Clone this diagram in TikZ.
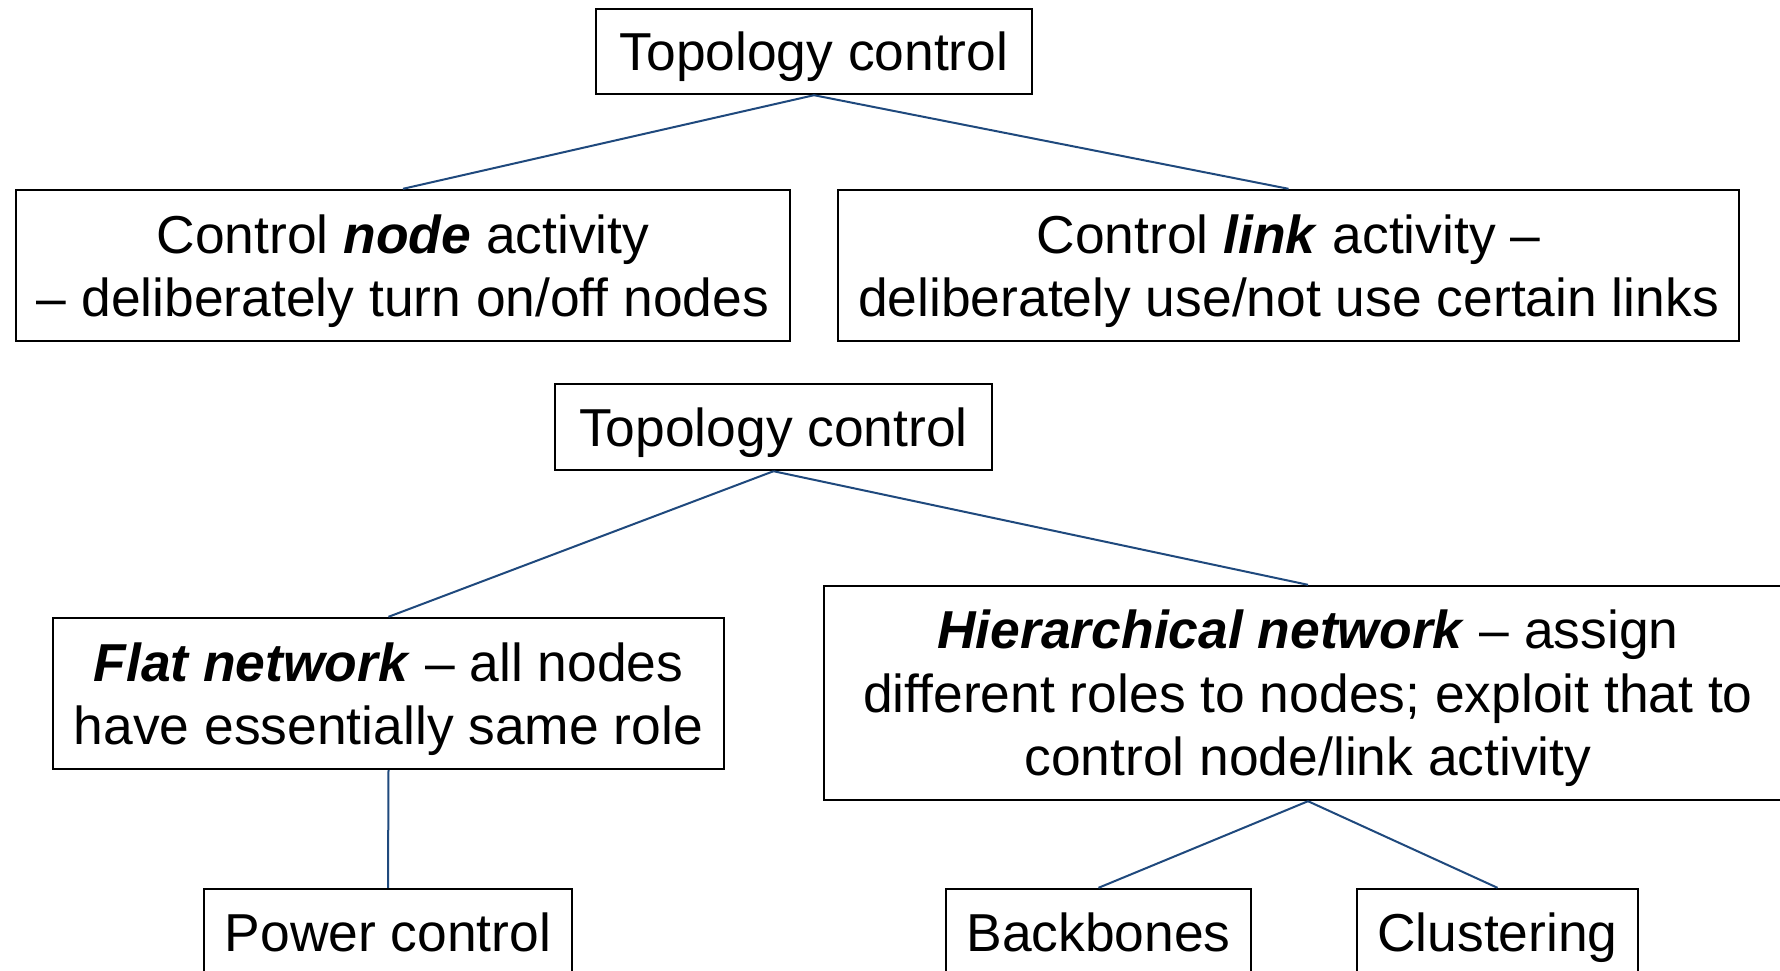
\documentclass[tikz,border=0pt]{standalone}
\usepackage{fontspec}
\setmainfont{Liberation Sans}
\definecolor{linkblue}{RGB}{31,73,125}
\newcommand{\bi}[1]{\textbf{\textit{#1}}}
\begin{document}
\begin{tikzpicture}[x=1pt,y=-1pt,
  box/.style={draw=black,line width=2.4pt,inner sep=0pt,align=center,
    text depth=0pt,font=\fontsize{53.4pt}{63.5pt}\selectfont},
  edge/.style={draw=linkblue,line width=2pt}]
\useasboundingbox (0,0) rectangle (1780,970);
\clip (0,0) rectangle (1780,970);
\fill[white] (0,0) rectangle (1780,970);

% upper tree
\node[box,minimum width=436pt,minimum height=85pt] (tc1) at (814,51.5) {Topology control};
\node[box,minimum width=774pt,minimum height=151pt] (nodeact) at (403,265.5)
  {Control \bi{node} activity\\– deliberately turn on/off nodes};
\node[box,minimum width=901pt,minimum height=151pt] (linkact) at (1288.5,265.5)
  {Control \bi{link} activity –\\deliberately use/not use certain links};

% lower tree
\node[box,minimum width=437pt,minimum height=86pt] (tc2) at (773.5,427) {Topology control};
\node[box,minimum width=671pt,minimum height=151pt] (flat) at (388.5,693.5)
  {\bi{Flat network} – all nodes\\have essentially same role};
\node[box,minimum width=968pt,minimum height=214pt] (hier) at (1308,693)
  {\bi{Hierarchical network} – assign\\different roles to nodes; exploit that to\\control node/link activity};
\node[box,minimum width=368pt,minimum height=86pt] (power) at (388,932) {Power control};
\node[box,minimum width=305pt,minimum height=86pt] (backb) at (1098.5,932) {Backbones};
\node[box,minimum width=281pt,minimum height=86pt] (clust) at (1497.5,932) {Clustering};

% connectors
\draw[edge] (tc1.south) -- (nodeact.north);
\draw[edge] (tc1.south) -- (linkact.north);
\draw[edge] (tc2.south) -- (flat.north);
\draw[edge] (tc2.south) -- (hier.north);
\draw[edge] (flat.south) -- (power.north);
\draw[edge] (hier.south) -- (backb.north);
\draw[edge] (hier.south) -- (clust.north);
\end{tikzpicture}
\end{document}
